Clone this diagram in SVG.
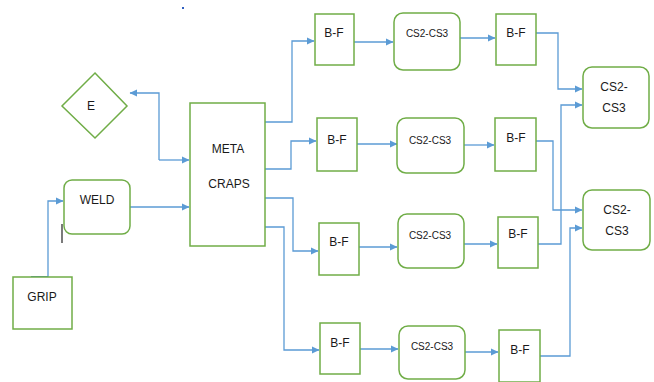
<svg xmlns="http://www.w3.org/2000/svg" width="654" height="382" viewBox="0 0 654 382">
<defs>
<marker id="ah" markerWidth="8" markerHeight="8" refX="7" refY="4" orient="auto" markerUnits="userSpaceOnUse">
<path d="M0,0.5 L7.5,4 L0,7.5 Z" fill="#5b9bd5"/>
</marker>
<marker id="ahs" markerWidth="8" markerHeight="8" refX="0.5" refY="4" orient="auto" markerUnits="userSpaceOnUse">
<path d="M7.5,0.5 L0,4 L7.5,7.5 Z" fill="#5b9bd5"/>
</marker>
<style>
.n{fill:#fff;stroke:#70ad47;stroke-width:1.5}
.c{fill:none;stroke:#5b9bd5;stroke-width:1.3;marker-end:url(#ah)}
.t{font-family:"Liberation Sans",Arial,sans-serif;font-size:12px;fill:#1a1a1a;text-anchor:middle}
.s{font-family:"Liberation Sans",Arial,sans-serif;font-size:10px;fill:#1a1a1a;text-anchor:middle}
</style>
</defs>
<rect width="654" height="382" fill="#fff"/>
<rect x="182" y="7" width="2" height="2" fill="#3060c0"/>
<g id="connectors">
<path class="c" d="M159,160 H189"/>
<path class="c" d="M159,160 V93 H130" style="marker-end:url(#ah)"/>
<path class="c" d="M130,207 H189"/>
<path class="c" d="M48,277 V201 H63"/>
<path d="M31,277 H48" stroke="#4a86c8" stroke-width="2"/>
<path d="M62,224 V243" stroke="#222" stroke-width="1.2"/>
<path class="c" d="M265,122 H292 V41 H314"/>
<path class="c" d="M265,169 H291 V141 H316"/>
<path class="c" d="M265,198 H293 V251 H318"/>
<path class="c" d="M265,227 H284 V350 H319"/>
<path class="c" d="M354,42 H393"/>
<path class="c" d="M460,38 H495"/>
<path class="c" d="M357,144 H397"/>
<path class="c" d="M464,145 H494"/>
<path class="c" d="M359,247 H397"/>
<path class="c" d="M464,244 H497"/>
<path class="c" d="M360,349 H398"/>
<path class="c" d="M465,352 H498"/>
<path class="c" d="M536,33 H558 V89 H582"/>
<path class="c" d="M538,244 H561 V105 H582"/>
<path class="c" d="M536,141 H553 V210 H582"/>
<path class="c" d="M540,356 H570 V228 H582"/>
</g>
<g id="E"><path class="n" d="M95,73 L127,106 L95,138 L62,106 Z"/><text class="t" x="91" y="110">E</text></g>
<g id="META"><rect class="n" x="190" y="103" width="75" height="143"/><text class="t" x="228" y="153">META</text><text class="t" x="229" y="188">CRAPS</text></g>
<g id="WELD"><rect class="n" x="64" y="180" width="66" height="54" rx="8"/><text class="t" x="97" y="204">WELD</text></g>
<g id="GRIP"><rect class="n" x="13" y="277" width="59" height="52"/><text class="t" x="42" y="301">GRIP</text></g>
<g id="BF1a"><rect class="n" x="315" y="14" width="39" height="51"/><text class="t" x="334" y="37">B-F</text></g>
<g id="CS1"><rect class="n" x="394" y="13" width="66" height="57" rx="9"/><text class="s" x="427" y="37">CS2-CS3</text></g>
<g id="BF1b"><rect class="n" x="496" y="14" width="40" height="51"/><text class="t" x="516" y="37">B-F</text></g>
<g id="BF2a"><rect class="n" x="317" y="118" width="40" height="53"/><text class="t" x="337" y="144">B-F</text></g>
<g id="CS2"><rect class="n" x="397" y="118" width="67" height="55" rx="9"/><text class="s" x="430" y="144">CS2-CS3</text></g>
<g id="BF2b"><rect class="n" x="495" y="118" width="41" height="53"/><text class="t" x="516" y="142">B-F</text></g>
<g id="BF3a"><rect class="n" x="319" y="223" width="40" height="52"/><text class="t" x="339" y="246">B-F</text></g>
<g id="CS3"><rect class="n" x="398" y="214" width="66" height="54" rx="9"/><text class="s" x="430" y="239">CS2-CS3</text></g>
<g id="BF3b"><rect class="n" x="498" y="217" width="40" height="51"/><text class="t" x="518" y="238">B-F</text></g>
<g id="BF4a"><rect class="n" x="320" y="323" width="40" height="51"/><text class="t" x="340" y="347">B-F</text></g>
<g id="CS4"><rect class="n" x="399" y="326" width="66" height="53" rx="9"/><text class="s" x="432" y="350">CS2-CS3</text></g>
<g id="BF4b"><rect class="n" x="499" y="330" width="41" height="52"/><text class="t" x="520" y="354">B-F</text></g>
<g id="CSTop"><rect class="n" x="583" y="67" width="66" height="61" rx="9"/><text class="t" x="614" y="91">CS2-</text><text class="t" x="614" y="112">CS3</text></g>
<g id="CSBot"><rect class="n" x="583" y="190" width="67" height="60" rx="9"/><text class="t" x="617" y="214">CS2-</text><text class="t" x="617" y="235">CS3</text></g>
</svg>
